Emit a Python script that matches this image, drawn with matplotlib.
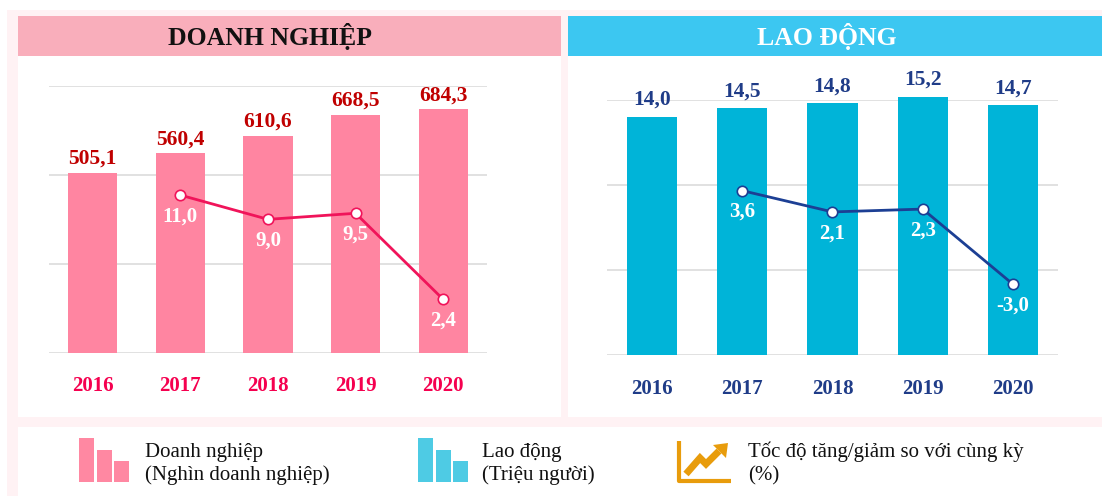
import matplotlib
matplotlib.use("Agg")
import matplotlib.pyplot as plt
from matplotlib.patches import Rectangle, Polygon
from matplotlib.lines import Line2D

# ---------------- data ----------------
years = ["2016", "2017", "2018", "2019", "2020"]
dn_values = [505.1, 560.4, 610.6, 668.5, 684.3]          # Nghìn doanh nghiệp
dn_growth_years = ["2017", "2018", "2019", "2020"]
dn_growth = [11.0, 9.0, 9.5, 2.4]
ld_values = [14.0, 14.5, 14.8, 15.2, 14.7]                # Triệu người
ld_growth_years = ["2017", "2018", "2019", "2020"]
ld_growth = [3.6, 2.1, 2.3, -3.0]

title_left = "DOANH NGHIỆP"
title_right = "LAO ĐỘNG"
legend_texts = [("Doanh nghiệp", "(Nghìn doanh nghiệp)"),
                ("Lao động", "(Triệu người)"),
                ("Tốc độ tăng/giảm so với cùng kỳ", "(%)")]

def fmt(v):
    return f"{v:.1f}".replace(".", ",")

# ---------------- figure ----------------
W, H = 1102, 496
fig = plt.figure(figsize=(W / 100, H / 100), dpi=100)
fig.patch.set_facecolor("white")
SERIF = ["Liberation Serif", "DejaVu Serif"]

bg = fig.add_axes([0, 0, 1, 1], zorder=0)
bg.set_xlim(0, W)
bg.set_ylim(H, 0)
bg.axis("off")

def rect(x0, y0, x1, y1, color, z=0):
    bg.add_patch(Rectangle((x0, y0), x1 - x0, y1 - y0, facecolor=color,
                           edgecolor="none", zorder=z))

PINK_BG = "#fff2f4"
rect(7, 10, W, H, PINK_BG, 0)
rect(18, 16, 561, 417, "white", 1)
rect(568, 16, W, 417, "white", 1)
rect(18, 427, W, H, "white", 1)
rect(18, 16, 561, 56, "#f9aebb", 2)
rect(568, 16, W, 56, "#3cc7f1", 2)

bg.text(270, 37, title_left, ha="center", va="center", fontsize=18.5,
        fontweight="bold", family=SERIF, color="#111111", zorder=3)
bg.text(827, 37, title_right, ha="center", va="center", fontsize=18.5,
        fontweight="bold", family=SERIF, color="white", zorder=3)

# ---------------- legend ----------------
def bar_icon(x0, color):
    tops = [438, 450, 461]
    for i, t in enumerate(tops):
        xs = x0 + i * 17.5
        bg.add_patch(Rectangle((xs, t), 15, 482 - t, facecolor=color,
                               edgecolor="none", zorder=3))

bar_icon(79, "#ff88a2")
bar_icon(418, "#4ecbe4")

ORANGE = "#e89c0c"
bg.add_line(Line2D([679, 679, 731], [441, 480.5, 480.5], color=ORANGE,
                   lw=3, solid_capstyle="butt", zorder=3))
bg.add_line(Line2D([686, 700, 706, 719], [474, 458, 464, 451], color=ORANGE,
                   lw=5, solid_joinstyle="miter", solid_capstyle="butt", zorder=3))
bg.add_patch(Polygon([[713, 445], [728, 443], [726, 458]], closed=True,
                     facecolor=ORANGE, edgecolor="none", zorder=3))

for (l1, l2), x in zip(legend_texts, [145, 482, 748]):
    bg.text(x, 457, l1, ha="left", va="baseline", fontsize=15,
            family=SERIF, color="#111111", zorder=3)
    bg.text(x, 480, l2, ha="left", va="baseline", fontsize=15,
            family=SERIF, color="#111111", zorder=3)

# ---------------- chart helper ----------------
def make_chart(px0, px1, py0, py1, values, ymax, ystep, growth_years, growth,
               g_lim, bar_color, label_color, tick_color, line_color,
               width, tick_pad, label_off):
    ax = fig.add_axes([px0 / W, 1 - py1 / H, (px1 - px0) / W, (py1 - py0) / H],
                      zorder=2)
    ax.set_facecolor("none")
    x = list(range(len(years)))
    bars = ax.bar(x, values, width=width, color=bar_color, zorder=2)
    for b in bars:
        b.set_clip_on(False)
    ax.set_xlim(-0.5, len(years) - 0.5)
    ax.set_ylim(0, ymax)
    ax.set_yticks([i * ystep for i in range(int(round(ymax / ystep)) + 1)])
    ax.yaxis.grid(True, color="#dcdcdc", lw=1.2, zorder=0)
    ax.set_axisbelow(True)
    ax.set_xticks(x)
    ax.set_xticklabels(years, fontsize=15, fontweight="bold", family=SERIF,
                       color=tick_color)
    for s in ax.spines.values():
        s.set_visible(False)
    for xi, v in zip(x, values):
        ax.annotate(fmt(v), (xi, v), xytext=(0, label_off), textcoords="offset points",
                    ha="center", va="bottom", fontsize=15.5, fontweight="bold",
                    family=SERIF, color=label_color, annotation_clip=False)

    ax2 = ax.twinx()
    ax2.set_ylim(*g_lim)
    ax2.axis("off")
    ax.tick_params(axis="y", left=False, right=False, labelleft=False,
                   labelright=False)
    ax.tick_params(axis="x", bottom=False, pad=tick_pad)
    gx = [years.index(y) for y in growth_years]
    ax2.plot(gx, growth, color=line_color, lw=2, marker="o", ms=7.5,
             mfc="white", mec=line_color, mew=1.2, zorder=5, clip_on=False)
    for xi, v in zip(gx, growth):
        ax2.annotate(fmt(v), (xi, v), xytext=(0, -19), textcoords="offset points",
                     ha="center", va="baseline", fontsize=15, fontweight="bold",
                     family=SERIF, color="white", annotation_clip=False)
    return ax

make_chart(49, 487, 86, 352.7, dn_values, 750, 250, dn_growth_years, dn_growth,
           (-2, 20), "#ff85a1", "#c00000", "#f5004f", "#f0145a",
           0.56, 13, 3)
make_chart(607, 1058, 100, 355, ld_values, 15, 5, ld_growth_years, ld_growth,
           (-8, 10), "#00b4d8", "#1f3c88", "#1f3c88", "#1c3f94",
           0.556, 14, 5)

fig.savefig("out.png", dpi=100)
